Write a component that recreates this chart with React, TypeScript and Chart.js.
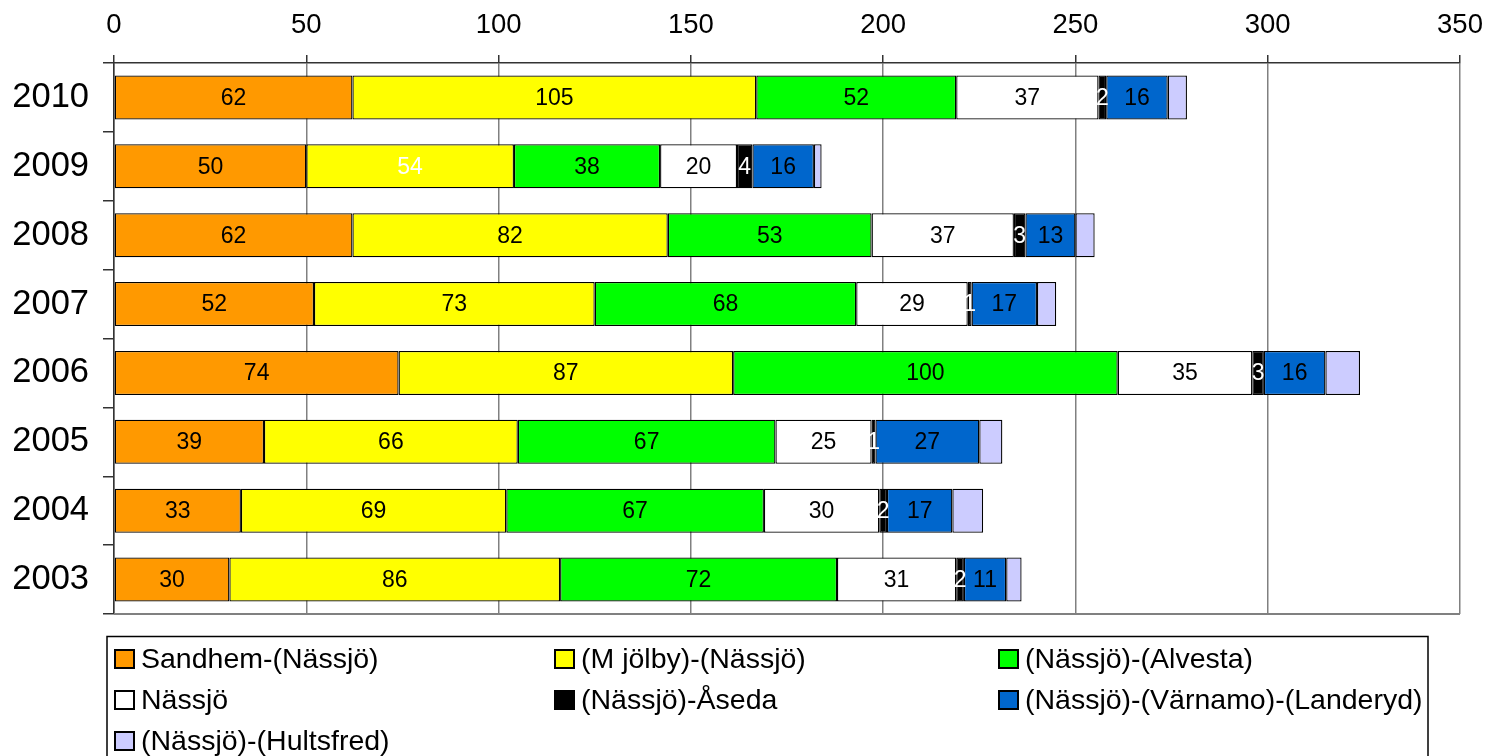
import React, { useEffect, useRef } from "react";
import { Chart, registerables } from "chart.js";

Chart.register(...registerables);

const categories = ["2010", "2009", "2008", "2007", "2006", "2005", "2004", "2003"];
const seriesNames = [
  "Sandhem-(Nässjö)",
  "(M jölby)-(Nässjö)",
  "(Nässjö)-(Alvesta)",
  "Nässjö",
  "(Nässjö)-Åseda",
  "(Nässjö)-(Värnamo)-(Landeryd)",
  "(Nässjö)-(Hultsfred)",
];
const sandhem = [62, 50, 62, 52, 74, 39, 33, 30];
const mjolby = [105, 54, 82, 73, 87, 66, 69, 86];
const alvesta = [52, 38, 53, 68, 100, 67, 67, 72];
const nassjo = [37, 20, 37, 29, 35, 25, 30, 31];
const aseda = [2, 4, 3, 1, 3, 1, 2, 2];
const varnamo = [16, 16, 13, 17, 16, 27, 17, 11];
const hultsfred = [5, 2, 5, 5, 9, 6, 8, 4];
const seriesValues = [sandhem, mjolby, alvesta, nassjo, aseda, varnamo, hultsfred];
const seriesColors = ["#FF9900", "#FFFF00", "#00FF00", "#FFFFFF", "#000000", "#0066CC", "#CCCCFF"];
const showLabels = [true, true, true, true, true, true, false];

const FONT = "'Liberation Sans', Arial, sans-serif";

const labelPlugin = {
  id: "segLabels",
  afterDatasetsDraw(chart: any) {
    const ctx = chart.ctx;
    ctx.save();
    ctx.font = `23px ${FONT}`;
    ctx.textAlign = "center";
    ctx.textBaseline = "middle";
    chart.data.datasets.forEach((ds: any, di: number) => {
      if (!showLabels[di]) return;
      const meta = chart.getDatasetMeta(di);
      meta.data.forEach((el: any, i: number) => {
        const v = ds.data[i];
        const cx = (el.x + el.base) / 2;
        let color = "#000";
        if (di === 4) color = "#fff";
        if (di === 1 && categories[i] === "2009") color = "#fff";
        ctx.fillStyle = color;
        ctx.fillText(String(v), cx, el.y + 1);
      });
    });
    ctx.restore();
  },
};

const framePlugin = {
  id: "frame",
  beforeDatasetsDraw(chart: any) {
    const { ctx, chartArea } = chart;
    ctx.save();
    ctx.strokeStyle = "#808080";
    ctx.lineWidth = 2;
    ctx.beginPath();
    ctx.moveTo(chartArea.left, chartArea.bottom);
    ctx.lineTo(chartArea.right, chartArea.bottom);
    ctx.stroke();
    ctx.restore();
  },
};

const legendPlugin = {
  id: "boxLegend",
  afterDraw(chart: any) {
    const ctx = chart.ctx;
    ctx.save();
    ctx.strokeStyle = "#000";
    ctx.lineWidth = 1.5;
    ctx.strokeRect(107, 636.5, 1428 - 107, 200);
    const colX = [115, 555, 999];
    const rowY = [659, 700, 741];
    ctx.font = `28.5px ${FONT}`;
    ctx.textBaseline = "middle";
    ctx.textAlign = "left";
    chart.data.datasets.forEach((ds: any, i: number) => {
      const c = i % 3;
      const r = Math.floor(i / 3);
      const x = colX[c];
      const y = rowY[r];
      ctx.fillStyle = ds.backgroundColor;
      ctx.fillRect(x, y - 9, 19, 18);
      ctx.lineWidth = 2;
      ctx.strokeStyle = "#000";
      ctx.strokeRect(x, y - 9, 19, 18);
      ctx.fillStyle = "#000";
      ctx.fillText(ds.label, x + 26, y + 1);
    });
    ctx.restore();
  },
};

export default function App() {
  const ref = useRef<HTMLCanvasElement | null>(null);
  useEffect(() => {
    document.body.style.margin = "0";
    const canvas = ref.current;
    if (!canvas) return;
    const chart = new Chart(canvas, {
      type: "bar",
      data: {
        labels: categories,
        datasets: seriesValues.map((vals, i) => ({
          label: seriesNames[i],
          data: vals,
          backgroundColor: seriesColors[i],
          borderColor: "#000",
          borderWidth: 1.3,
          borderSkipped: false,
          barPercentage: 0.64,
          categoryPercentage: 1,
        })),
      },
      options: {
        indexAxis: "y",
        animation: false,
        responsive: false,
        devicePixelRatio: 1,
        layout: { padding: { left: 0, top: 0, right: 27, bottom: 142 } },
        plugins: {
          legend: { display: false },
          tooltip: { enabled: false },
        },
        scales: {
          x: {
            position: "top",
            stacked: true,
            min: 0,
            max: 350,
            ticks: {
              stepSize: 50,
              color: "#000",
              font: { family: FONT, size: 27.5 },
              padding: 13,
            },
            grid: {
              color: "#808080",
              lineWidth: 1.5,
              tickColor: "#333",
              tickLength: 8,
            },
            border: { color: "#333", width: 1.5 },
            afterFit: (s: any) => {
              s.height = 63;
              s.paddingLeft = 0;
              s.paddingRight = 0;
            },
          },
          y: {
            stacked: true,
            ticks: {
              color: "#000",
              font: { family: FONT, size: 34.5 },
              padding: 14,
            },
            grid: {
              offset: true,
              drawOnChartArea: false,
              tickColor: "#333",
              tickLength: 11,
              lineWidth: 1.5,
            },
            border: { color: "#333", width: 1.5 },
            afterFit: (s: any) => {
              s.width = 114;
              s.paddingTop = 0;
              s.paddingBottom = 0;
            },
          },
        },
      },
      plugins: [framePlugin, labelPlugin, legendPlugin],
    } as any);
    return () => chart.destroy();
  }, []);
  return (
    <canvas
      ref={ref}
      width={1487}
      height={756}
      style={{ position: "fixed", left: 0, top: 0, width: 1487, height: 756 }}
    />
  );
}
